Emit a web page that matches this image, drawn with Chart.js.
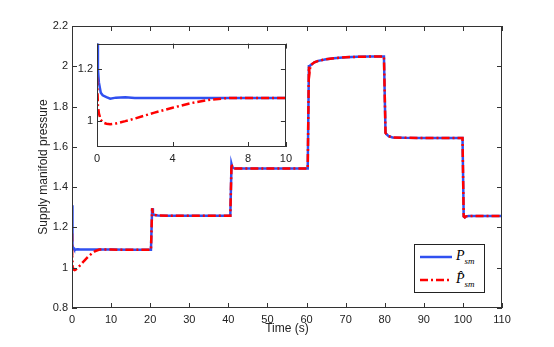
<!DOCTYPE html>
<html lang="en">
<head>
  <meta charset="UTF-8" />
  <title>Supply manifold pressure</title>
  <script src="https://cdn.jsdelivr.net/npm/chart.js@4.4.1/dist/chart.umd.min.js"></script>
  <style>
    body {
      margin: 0;
      background: white;
      font-family: 'Liberation Sans', Arial, sans-serif;
    }
    .wrap {
      position: relative;
      width: 554px;
      height: 347px;
    }
    #mainChart {
      position: absolute;
      left: 0;
      top: 0;
    }
    #insetChart {
      position: absolute;
      left: 77px;
      top: 33px;
    }
    .legend {
      position: absolute;
      left: 414px;
      top: 244px;
      width: 69px;
      height: 47px;
      border: 1px solid #222;
      background: white;
    }
    .legend .row {
      position: absolute;
      left: 5px;
      height: 20px;
      display: flex;
      align-items: center;
    }
    .legend .lbl {
      margin-left: 3px;
      font-family: 'Liberation Serif', 'DejaVu Serif', serif;
      font-style: italic;
      font-size: 14px;
      color: #000;
    }
    .legend sub {
      font-size: 9px;
    }
  </style>
</head>
<body>
  <div class="wrap">
    <canvas id="mainChart" width="554" height="347"></canvas>
    <canvas id="insetChart" width="220" height="136"></canvas>
    <div class="legend">
      <div class="row" style="top:2px;">
        <svg width="33" height="6"><line x1="0" y1="3" x2="32" y2="3" stroke="#3050f0" stroke-width="2.5" /></svg>
        <span class="lbl">P<sub>sm</sub></span>
      </div>
      <div class="row" style="top:25px;">
        <svg width="33" height="6"><line x1="0" y1="3" x2="32" y2="3" stroke="#ff0000" stroke-width="2.5" stroke-dasharray="8,3,2,3" /></svg>
        <span class="lbl">P&#770;<sub>sm</sub></span>
      </div>
    </div>
  </div>

  <script>
    // time (s)
    const time = [0, 0.05, 0.1, 0.2, 0.3, 0.5, 0.7, 1, 1.5, 2, 3, 4, 5, 6, 7, 8, 10, 15, 20.2,
      20.5, 20.7, 21, 22, 25, 30, 35, 40.5, 40.8, 41, 41.5, 42, 45, 50, 55, 60.3,
      60.6, 60.75, 61, 61.5, 62, 63, 65, 67, 70, 73, 76, 79.8,
      80.2, 80.5, 81, 82, 85, 90, 95, 99.9, 100.2, 100.5, 100.8, 101.5, 105, 110];

    // measured supply manifold pressure
    const psm = [1.31, 1.2, 1.15, 1.11, 1.1, 1.093, 1.087, 1.091, 1.092, 1.09, 1.09, 1.09, 1.09, 1.09, 1.09, 1.09, 1.09, 1.089, 1.089,
      1.295, 1.268, 1.262, 1.259, 1.258, 1.258, 1.258, 1.258, 1.515, 1.5, 1.493, 1.492, 1.492, 1.492, 1.492, 1.492,
      2.0, 2.0, 2.005, 2.012, 2.02, 2.027, 2.035, 2.04, 2.045, 2.047, 2.048, 2.049,
      1.67, 1.662, 1.653, 1.647, 1.645, 1.644, 1.644, 1.644, 1.255, 1.25, 1.255, 1.257, 1.257, 1.257];

    // estimated supply manifold pressure
    const psmHat = [1.17, 1.06, 1.03, 1.005, 0.995, 0.99, 0.988, 0.991, 1.0, 1.01, 1.032, 1.052, 1.07, 1.083, 1.09, 1.09, 1.09, 1.089, 1.089,
      1.295, 1.268, 1.262, 1.259, 1.258, 1.258, 1.258, 1.258, 1.515, 1.5, 1.493, 1.492, 1.492, 1.492, 1.492, 1.492,
      2.0, 1.965, 2.005, 2.012, 2.02, 2.027, 2.035, 2.04, 2.045, 2.047, 2.048, 2.049,
      1.67, 1.662, 1.653, 1.647, 1.645, 1.644, 1.644, 1.644, 1.255, 1.25, 1.255, 1.257, 1.257, 1.257];

    const insetXTicks = [0, 4, 8, 10];
    const insetYTicks = [1, 1.2];

    Chart.defaults.font.family = "'Liberation Sans', Arial, sans-serif";
    Chart.defaults.font.size = 11;
    Chart.defaults.color = '#222';

    const toPoints = (ys) => time.map((t, i) => ({ x: t, y: ys[i] }));

    function datasets() {
      return [
        {
          label: 'P_sm hat',
          data: toPoints(psmHat),
          borderColor: '#ff0000',
          borderWidth: 2.5,
          borderDash: [8, 3, 2, 3],
          pointRadius: 0,
          tension: 0,
          order: 0
        },
        {
          label: 'P_sm',
          data: toPoints(psm),
          borderColor: '#3050f0',
          borderWidth: 2.5,
          pointRadius: 0,
          tension: 0,
          order: 1
        }
      ];
    }

    // matlab style box with inward ticks
    const boxTicks = {
      id: 'boxTicks',
      beforeDatasetsDraw(chart) {
        const { ctx, chartArea: a } = chart;
        ctx.save();
        ctx.fillStyle = 'white';
        ctx.fillRect(a.left, a.top, a.right - a.left, a.bottom - a.top);
        ctx.restore();
      },
      afterDraw(chart) {
        const { ctx, chartArea: a, scales: { x, y } } = chart;
        const len = 5;
        ctx.save();
        ctx.strokeStyle = '#333';
        ctx.lineWidth = 1;
        ctx.beginPath();
        x.ticks.forEach(t => {
          const px = Math.round(x.getPixelForValue(t.value)) + 0.5;
          ctx.moveTo(px, a.bottom); ctx.lineTo(px, a.bottom - len);
          ctx.moveTo(px, a.top); ctx.lineTo(px, a.top + len);
        });
        y.ticks.forEach(t => {
          const py = Math.round(y.getPixelForValue(t.value)) + 0.5;
          ctx.moveTo(a.left, py); ctx.lineTo(a.left + len, py);
          ctx.moveTo(a.right, py); ctx.lineTo(a.right - len, py);
        });
        ctx.stroke();
        ctx.strokeRect(Math.round(a.left) + 0.5, Math.round(a.top) + 0.5,
          Math.round(a.right - a.left) - 1, Math.round(a.bottom - a.top) - 1);
        ctx.restore();
      }
    };

    const noGrid = { display: false, drawTicks: false };

    new Chart(document.getElementById('mainChart'), {
      type: 'line',
      data: { datasets: datasets() },
      plugins: [boxTicks],
      options: {
        responsive: false,
        animation: false,
        layout: { padding: { left: 0, right: 52, top: 26, bottom: 0 } },
        plugins: { legend: { display: false }, tooltip: { enabled: false } },
        scales: {
          x: {
            type: 'linear',
            min: 0,
            max: 110,
            grid: noGrid,
            border: { display: false },
            ticks: { stepSize: 10, padding: 5, maxRotation: 0 },
            title: { display: true, text: 'Time (s)', font: { size: 12 }, padding: { top: 0, bottom: 11 } },
            afterFit: (s) => { s.height = 39; }
          },
          y: {
            min: 0.8,
            max: 2.2,
            grid: noGrid,
            border: { display: false },
            ticks: { stepSize: 0.2, padding: 4, callback: (v) => String(+v.toFixed(1)) },
            title: { display: true, text: 'Supply manifold pressure', font: { size: 12 }, padding: { top: 36, bottom: 0 } },
            afterFit: (s) => { s.width = 72; }
          }
        }
      }
    });

    new Chart(document.getElementById('insetChart'), {
      type: 'line',
      data: { datasets: datasets() },
      plugins: [boxTicks],
      options: {
        responsive: false,
        animation: false,
        layout: { padding: { left: 0, right: 1, top: 5, bottom: 0 } },
        plugins: { legend: { display: false }, tooltip: { enabled: false } },
        scales: {
          x: {
            type: 'linear',
            min: 0,
            max: 10,
            grid: noGrid,
            border: { display: false },
            ticks: { padding: 5, maxRotation: 0 },
            afterBuildTicks: (s) => { s.ticks = insetXTicks.map(v => ({ value: v })); },
            afterFit: (s) => { s.height = 22; }
          },
          y: {
            min: 0.9,
            max: 1.3,
            grid: noGrid,
            border: { display: false },
            ticks: { padding: 4, callback: (v) => String(+v.toFixed(1)) },
            afterBuildTicks: (s) => { s.ticks = insetYTicks.map(v => ({ value: v })); },
            afterFit: (s) => { s.width = 20; }
          }
        }
      }
    });
  </script>
</body>
</html>
